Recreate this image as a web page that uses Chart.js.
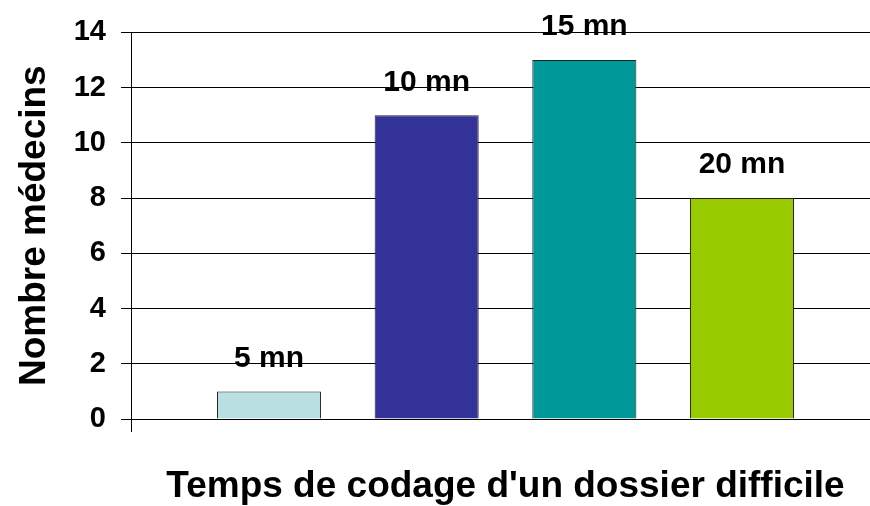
<!DOCTYPE html>
<html>
<head>
<meta charset="utf-8">
<script src="https://cdn.jsdelivr.net/npm/chart.js@4/dist/chart.umd.min.js"></script>
<style>
  html, body { margin: 0; padding: 0; background: #fff; overflow: hidden; }
  #wrap { width: 880px; height: 506px; position: relative; }
</style>
</head>
<body>
<div id="wrap"><canvas id="chart"></canvas></div>
<script>
const durations = ["5 mn", "10 mn", "15 mn", "20 mn"];
const doctors = [1, 11, 13, 8];
const barColors = ["#b8e0e0", "#333399", "#009999", "#99cc00"];
const yMin = 0, yMax = 14, yStep = 2;

const FONT = "'Liberation Sans', Arial, sans-serif";

// labels drawn above each bar (dataset name)
const barLabels = {
  id: "barLabels",
  afterDatasetsDraw(chart) {
    const ctx = chart.ctx;
    ctx.save();
    ctx.font = "bold 30px " + FONT;
    ctx.fillStyle = "#000";
    ctx.textAlign = "center";
    ctx.textBaseline = "middle";
    chart.data.datasets.forEach((ds, i) => {
      const bar = chart.getDatasetMeta(i).data[0];
      ctx.fillText(ds.label, bar.x, bar.y - 33);
    });
    ctx.restore();
  },
};

const datasets = durations.map((d, i) => ({
  label: d,
  data: [doctors[i]],
  backgroundColor: barColors[i],
  borderColor: "#222",
  borderWidth: 1,
  categoryPercentage: 0.842,
  barPercentage: 0.66,
}));

new Chart(document.getElementById("chart"), {
  type: "bar",
  data: { labels: [""], datasets: datasets },
  plugins: [barLabels],
  options: {
    responsive: true,
    maintainAspectRatio: false,
    animation: false,
    layout: { padding: { top: 32, left: 0, right: 0, bottom: 0 } },
    scales: {
      x: {
        ticks: { display: false },
        grid: { drawOnChartArea: false, color: "#000", tickLength: 13 },
        border: { color: "#000", width: 1 },
        title: {
          display: true,
          text: "Temps de codage d'un dossier difficile",
          color: "#000",
          font: { family: FONT, size: 37, weight: "bold", lineHeight: 1.05 },
          padding: { top: 0, bottom: 0 },
        },
        afterFit(scale) { scale.height = 87; },
      },
      y: {
        min: yMin,
        max: yMax,
        ticks: {
          stepSize: yStep,
          color: "#000",
          padding: 15,
          font: { family: FONT, size: 29, weight: "bold" },
        },
        grid: { color: "#000", lineWidth: 1, tickLength: 10 },
        border: { color: "#000", width: 1 },
        title: {
          display: true,
          text: "Nombre médecins",
          color: "#000",
          font: { family: FONT, size: 37, weight: "bold", lineHeight: 1.2 },
          padding: { top: 13, bottom: 0 },
        },
        afterFit(scale) { scale.width = 131; },
      },
    },
    plugins: {
      legend: { display: false },
      tooltip: { enabled: false },
    },
  },
});
</script>
</body>
</html>
